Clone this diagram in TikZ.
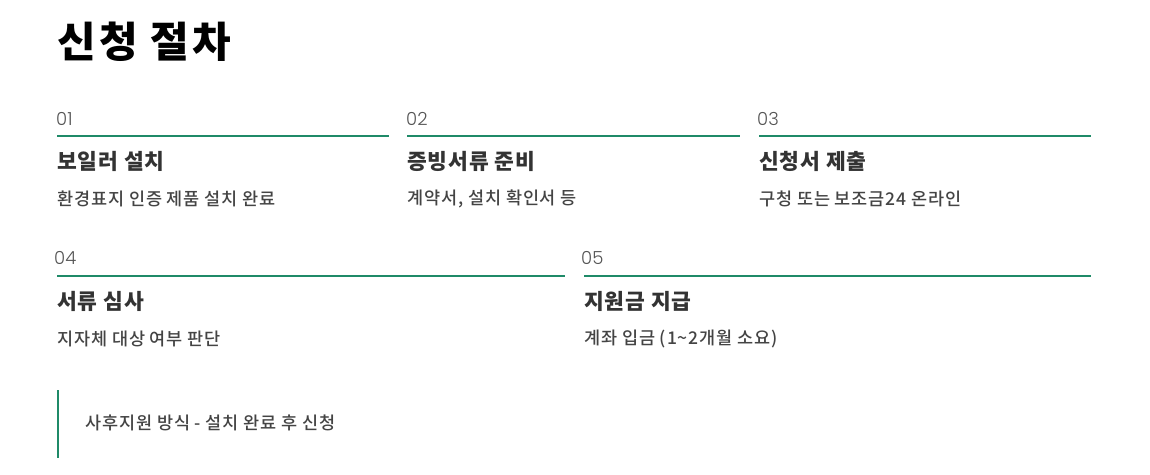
\documentclass[tikz,border=0pt]{standalone}
\usepackage{fontspec}
\newfontfamily\krtitle{Noto Sans CJK KR}[LetterSpace=8, BoldFont={* Black}]
\newfontfamily\krhead{Noto Sans CJK KR}[LetterSpace=4]
\newfontfamily\krdesc{Noto Sans CJK KR}[LetterSpace=5, UprightFont={* Medium}]
\newfontfamily\numfont{Poppins}[UprightFont={* Light}]
\definecolor{accent}{HTML}{1F8A68}
\definecolor{headc}{HTML}{333333}
\definecolor{descc}{HTML}{444444}
\definecolor{numc}{HTML}{555555}
\tikzset{
  title/.style={anchor=west, inner sep=0pt, font=\krtitle\bfseries\fontsize{42}{46}\selectfont, text=black},
  stepnum/.style={anchor=west, inner sep=0pt, font=\numfont\fontsize{18}{20}\selectfont, text=numc},
  stephead/.style={anchor=west, inner sep=0pt, font=\krhead\bfseries\fontsize{21.5}{24}\selectfont, text=headc},
  stepdesc/.style={anchor=west, inner sep=0pt, font=\krdesc\fontsize{17.5}{20}\selectfont, text=descc},
  note/.style={anchor=west, inner sep=0pt, font=\krdesc\fontsize{17.5}{20}\selectfont, text=descc},
  rule/.style={draw=accent, line width=2pt},
  noterule/.style={draw=accent, line width=2.5pt}
}
\begin{document}
\begin{tikzpicture}[x=1pt,y=-1pt]
\useasboundingbox[fill=white] (0,0) rectangle (1150,474);
\node[title] (t) at (57,42) {신청 절차};
% row 1
\node[stepnum] (n1) at (56,119) {01};
\node[stepnum] (n2) at (406,119) {02};
\node[stepnum] (n3) at (757,119) {03};
\coordinate (l1a) at (57,135.5); \coordinate (l1b) at (389,135.5);
\coordinate (l2a) at (407,135.5); \coordinate (l2b) at (740,135.5);
\coordinate (l3a) at (759,135.5); \coordinate (l3b) at (1091,135.5);
\draw[rule] (l1a) -- (l1b);
\draw[rule] (l2a) -- (l2b);
\draw[rule] (l3a) -- (l3b);
\node[stephead] (h1) at (57,161) {보일러 설치};
\node[stephead] (h2) at (407,161) {증빙서류 준비};
\node[stephead] (h3) at (759,161) {신청서 제출};
\node[stepdesc] (d1) at (57,198.5) {환경표지 인증 제품 설치 완료};
\node[stepdesc] (d2) at (407,198.5) {계약서, 설치 확인서 등};
\node[stepdesc] (d3) at (759,198.5) {구청 또는 보조금24 온라인};
% row 2
\node[stepnum] (n4) at (54,258) {04};
\node[stepnum] (n5) at (581,258) {05};
\coordinate (l4a) at (57,275.5); \coordinate (l4b) at (565,275.5);
\coordinate (l5a) at (584,275.5); \coordinate (l5b) at (1091,275.5);
\draw[rule] (l4a) -- (l4b);
\draw[rule] (l5a) -- (l5b);
\node[stephead] (h4) at (57,301) {서류 심사};
\node[stephead] (h5) at (584,301) {지원금 지급};
\node[stepdesc] (d4) at (57,338.5) {지자체 대상 여부 판단};
\node[stepdesc] (d5) at (584,338.5) {계좌 입금 (1\textasciitilde2개월 소요)};
% note
\coordinate (va) at (58,390); \coordinate (vb) at (58,458);
\draw[noterule] (va) -- (vb);
\node[note] (nt) at (85,423) {사후지원 방식 - 설치 완료 후 신청};
\end{tikzpicture}
\end{document}
